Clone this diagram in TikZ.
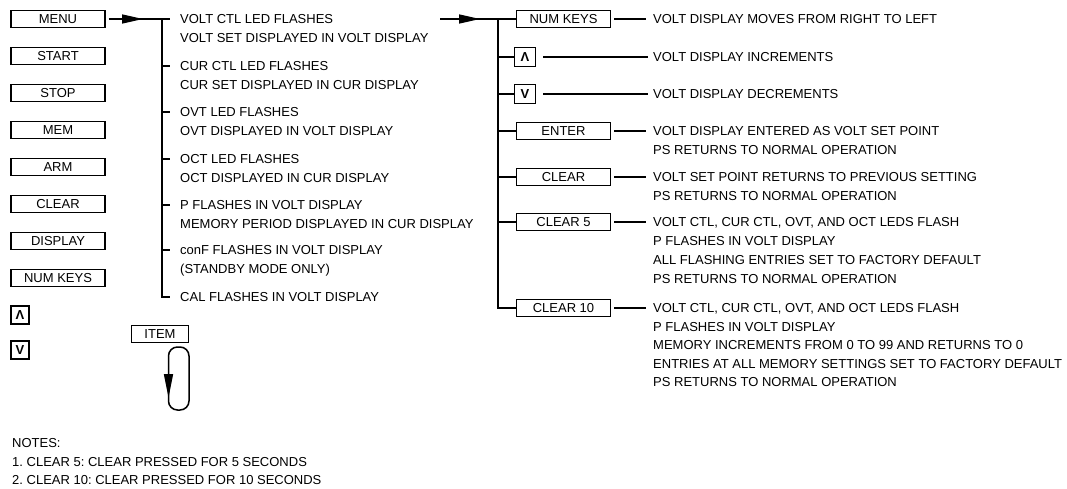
\documentclass[tikz,border=0pt]{standalone}
\usepackage{fontspec}
\setmainfont{Liberation Sans}
\usetikzlibrary{arrows.meta,calc}
\frenchspacing
\begin{document}
\begin{tikzpicture}[x=1pt,y=-1pt,
  every node/.style={font=\fontsize{13}{19}\selectfont, inner sep=0pt},
  keybox/.style={draw, line width=1.5pt, minimum width=94, minimum height=17},
  caretbox/.style={draw, line width=1.5pt, minimum width=21, minimum height=19, font=\fontsize{13}{19}\selectfont\bfseries},
  desc/.style={anchor=north west, align=left},
  wire/.style={line width=1.5pt},
  bigtip/.style={line width=1.5pt, -{Triangle[length=21pt,width=9pt]}}
]
\useasboundingbox (0,0) rectangle (1067,489);

% left key list
\node[keybox] (menu) at (58,19) {MENU};
\node[keybox] (start) at (58,56) {START};
\node[keybox] (stop) at (58,93) {STOP};
\node[keybox] (mem) at (58,130) {MEM};
\node[keybox] (arm) at (58,167) {ARM};
\node[keybox] (clr) at (58,204) {CLEAR};
\node[keybox] (disp) at (58,241) {DISPLAY};
\node[keybox] (numk) at (58,278) {NUM KEYS};
\node[caretbox, minimum width=18, minimum height=18] (upk) at (20,315) {Λ};
\node[caretbox, minimum width=18, minimum height=18] (dnk) at (20,350) {V};

% ITEM loop
\node[keybox, minimum width=57] (item) at (160,334) {ITEM};
\draw[wire, rounded corners=9pt] (168.5,347) rectangle (189,410);
\coordinate (ls) at (168.5,372);
\coordinate (le) at (168.5,398);
\draw[line width=1.5pt, -{Triangle[length=24pt,width=9pt]}] (ls) -- (le);

% menu items
\node[desc] (m1) at (180,14.6) {VOLT CTL LED FLASHES\\VOLT SET DISPLAYED IN VOLT DISPLAY};
\node[desc] (m2) at (180,61.6) {CUR CTL LED FLASHES\\CUR SET DISPLAYED IN CUR DISPLAY};
\node[desc] (m3) at (180,107.6) {OVT LED FLASHES\\OVT DISPLAYED IN VOLT DISPLAY};
\node[desc] (m4) at (180,154.6) {OCT LED FLASHES\\OCT DISPLAYED IN CUR DISPLAY};
\node[desc] (m5) at (180,200.6) {P FLASHES IN VOLT DISPLAY\\MEMORY PERIOD DISPLAYED IN CUR DISPLAY};
\node[desc] (m6) at (180,245.6) {conF FLASHES IN VOLT DISPLAY\\(STANDBY MODE ONLY)};
\node[desc] (m7) at (180,292.6) {CAL FLASHES IN VOLT DISPLAY};

\coordinate (b1t) at (162,19);
\coordinate (a1) at (143,19);
\draw[wire] ([xshift=3pt]menu.east) -- ($(m1.north west)+(-10,4.4)$);
\draw[bigtip] ([xshift=3pt]menu.east) -- (a1);
\draw[wire] (b1t) |- ($(m7.north west)+(-10,4.4)$);
\foreach \m in {m2,m3,m4,m5,m6}{
  \draw[wire] ($(\m.north west)+(-18,4.4)$) -- ++(8,0);
}

% second level
\coordinate (a2s) at (440,19);
\coordinate (a2) at (480,19);
\coordinate (b2t) at (498,19);
\node[keybox] (r1) at (563.5,19) {NUM KEYS};
\node[caretbox] (r2) at (525,57) {Λ};
\node[caretbox] (r3) at (525,94) {V};
\node[keybox] (r4) at (563.5,131) {ENTER};
\node[keybox] (r5) at (563.5,177) {CLEAR};
\node[keybox] (r6) at (563.5,222) {CLEAR 5};
\node[keybox] (r7) at (563.5,308) {CLEAR 10};

\draw[wire] (a2s) -- (r1.west);
\draw[bigtip] (a2s) -- (a2);
\draw[wire] (b2t) |- (r7.west);
\foreach \r in {r2,r3,r4,r5,r6}{
  \draw[wire] (b2t |- \r.west) -- (\r.west);
}

\node[desc] (d1) at (653,14.6) {VOLT DISPLAY MOVES FROM RIGHT TO LEFT};
\node[desc] (d2) at (653,52.6) {VOLT DISPLAY INCREMENTS};
\node[desc] (d3) at (653,89.6) {VOLT DISPLAY DECREMENTS};
\node[desc] (d4) at (653,126.6) {VOLT DISPLAY ENTERED AS VOLT SET POINT\\PS RETURNS TO NORMAL OPERATION};
\node[desc] (d5) at (653,172.6) {VOLT SET POINT RETURNS TO PREVIOUS SETTING\\PS RETURNS TO NORMAL OPERATION};
\node[desc] (d6) at (653,217.6) {VOLT CTL, CUR CTL, OVT, AND OCT LEDS FLASH\\P FLASHES IN VOLT DISPLAY\\ALL FLASHING ENTRIES SET TO FACTORY DEFAULT\\PS RETURNS TO NORMAL OPERATION};
\node[desc, font=\fontsize{13}{18.5}\selectfont] (d7) at (653,303.6) {VOLT CTL, CUR CTL, OVT, AND OCT LEDS FLASH\\P FLASHES IN VOLT DISPLAY\\MEMORY INCREMENTS FROM 0 TO 99 AND RETURNS TO 0\\ENTRIES AT ALL MEMORY SETTINGS SET TO FACTORY DEFAULT\\PS RETURNS TO NORMAL OPERATION};

\foreach \r/\d in {r1/d1,r4/d4,r5/d5,r6/d6,r7/d7}{
  \draw[wire] ([xshift=3pt]\r.east) -- ($(\d.north west)+(-7,4.4)$);
}
\foreach \r/\d in {r2/d2,r3/d3}{
  \draw[wire] ([xshift=7pt]\r.east) -- ($(\d.north west)+(-5,4.4)$);
}

% notes
\node[desc, font=\fontsize{13}{18.5}\selectfont] (notes) at (12,438.6) {NOTES:\\1. CLEAR 5: CLEAR PRESSED FOR 5 SECONDS\\2. CLEAR 10: CLEAR PRESSED FOR 10 SECONDS};
\end{tikzpicture}
\end{document}
